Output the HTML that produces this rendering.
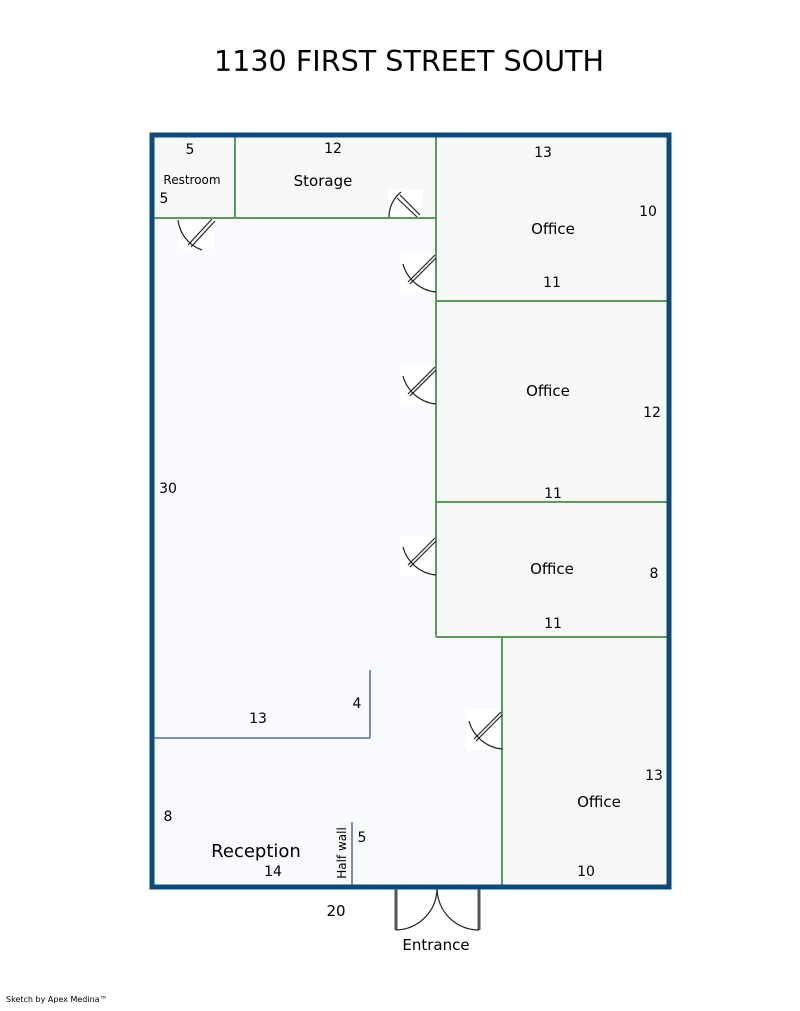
<!DOCTYPE html>
<html><head><style>
body{margin:0;background:#fff;}
svg text{font-family:"DejaVu Sans","Liberation Sans",sans-serif;fill:#000;}
</style></head><body>
<svg width="800" height="1006" xmlns="http://www.w3.org/2000/svg">
<text x="409" y="71" font-size="28.6" text-anchor="middle">1130 FIRST STREET SOUTH</text>
<rect x="152" y="135" width="516" height="751" fill="#f8fafd"/>
<rect x="436" y="136" width="232" height="501" fill="#f7f9f6"/>
<rect x="502" y="637" width="166" height="249" fill="#f7f9f6"/>
<rect x="153" y="136" width="283" height="82" fill="#f7f9f6"/>
<g stroke="#5a9a5a" stroke-width="2" fill="none">
<line x1="235" y1="136" x2="235" y2="218"/>
<line x1="153" y1="218" x2="436" y2="218"/>
<line x1="436" y1="136" x2="436" y2="637"/>
<line x1="436" y1="301" x2="668" y2="301"/>
<line x1="436" y1="502" x2="668" y2="502"/>
<line x1="436" y1="637" x2="668" y2="637"/>
<line x1="502" y1="637" x2="502" y2="886"/>
</g>
<g stroke="#7a90b0" stroke-width="2" fill="none">
<line x1="153" y1="738" x2="370" y2="738"/>
<line x1="370" y1="670" x2="370" y2="738"/>
<line x1="352" y1="822" x2="352" y2="886"/>
</g>
<rect x="152" y="135" width="517" height="752" fill="none" stroke="#0b4a7c" stroke-width="5"/>
<g stroke="#222" stroke-width="1.2" fill="none">
<rect x="178" y="219" width="36" height="30" fill="#fff" stroke="none"/>
<path d="M178 220 A36 36 0 0 0 202 250"/>
<path d="M212 219 L188 245 M215 221 L191 247"/>
<rect x="388" y="190" width="34" height="27" fill="#fff" stroke="none"/>
<path d="M389 217 A32 32 0 0 1 401 192"/>
<path d="M397 198 L417 217 M400 195 L420 215"/>
<g id="d"><rect x="400" y="253" width="35" height="40" fill="#fff" stroke="none"/>
<path d="M435 255 L408 282 M436 258 L410 284"/>
<path d="M403 264 A38 38 0 0 0 436 292"/></g>
<use href="#d" y="112"/>
<use href="#d" y="283"/>
<use href="#d" x="66" y="457"/>
</g>
<g stroke="#555" fill="none">
<line x1="396" y1="889" x2="396" y2="930" stroke-width="3"/>
<line x1="479" y1="889" x2="479" y2="930" stroke-width="3"/>
<path d="M396 930 A42 42 0 0 0 437 889" stroke="#222" stroke-width="1.2"/>
<path d="M479 930 A42 42 0 0 1 437 889" stroke="#222" stroke-width="1.2"/>
</g>
<g font-size="14">
<text x="190" y="154" text-anchor="middle">5</text>
<text x="192" y="184" text-anchor="middle" font-size="12">Restroom</text>
<text x="164" y="203" text-anchor="middle">5</text>
<text x="333" y="153" text-anchor="middle">12</text>
<text x="323" y="186" text-anchor="middle" font-size="15">Storage</text>
<text x="543" y="157" text-anchor="middle">13</text>
<text x="648" y="216" text-anchor="middle">10</text>
<text x="553" y="234" text-anchor="middle" font-size="15">Office</text>
<text x="552" y="287" text-anchor="middle">11</text>
<text x="548" y="396" text-anchor="middle" font-size="15">Office</text>
<text x="652" y="417" text-anchor="middle">12</text>
<text x="553" y="498" text-anchor="middle">11</text>
<text x="168" y="493" text-anchor="middle">30</text>
<text x="552" y="574" text-anchor="middle" font-size="15">Office</text>
<text x="654" y="578" text-anchor="middle">8</text>
<text x="553" y="628" text-anchor="middle">11</text>
<text x="357" y="708" text-anchor="middle">4</text>
<text x="258" y="723" text-anchor="middle">13</text>
<text x="654" y="780" text-anchor="middle">13</text>
<text x="599" y="807" text-anchor="middle" font-size="15">Office</text>
<text x="168" y="821" text-anchor="middle">8</text>
<text x="362" y="842" text-anchor="middle">5</text>
<text x="256" y="857" text-anchor="middle" font-size="18">Reception</text>
<text x="273" y="876" text-anchor="middle">14</text>
<text x="586" y="876" text-anchor="middle">10</text>
<text x="336" y="916" text-anchor="middle" font-size="15">20</text>
<text x="436" y="950" text-anchor="middle" font-size="15">Entrance</text>
<text transform="translate(346,853) rotate(-90)" text-anchor="middle" font-size="12">Half wall</text>
<text x="6" y="1002" font-size="8">Sketch by Apex Medina™</text>
</g>
</svg>
</body></html>
